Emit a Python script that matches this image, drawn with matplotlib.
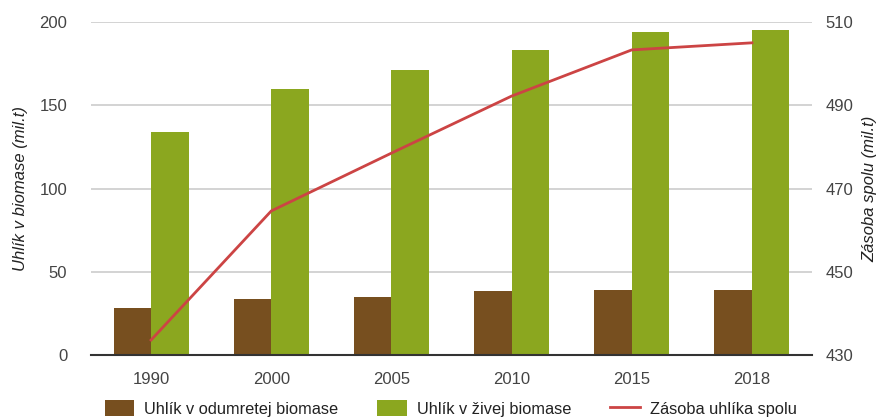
import numpy as np
import matplotlib.pyplot as plt

plt.rcParams['font.family'] = ['Liberation Sans', 'DejaVu Sans']

years = ['1990', '2000', '2005', '2010', '2015', '2018']
dead_biomass = [28.2, 33.6, 35.0, 38.4, 39.0, 39.0]
live_biomass = [134, 160, 171, 183, 194, 195]
total_stock = [433.6, 464.6, 478.5, 492.2, 503.3, 505.0]

brown = '#774F1F'
green = '#8BA71F'
red = '#CC4444'
txt = '#444444'

fig = plt.figure(figsize=(8.8, 4.17), dpi=100)
ax = fig.add_axes([0.1034, 0.1487, 0.8193, 0.7985])
ax2 = ax.twinx()

x = np.arange(len(years))
w = 0.3125
ax.bar(x - w / 2, dead_biomass, w, color=brown, label='Uhlík v odumretej biomase', zorder=2)
ax.bar(x + w / 2, live_biomass, w, color=green, label='Uhlík v živej biomase', zorder=2)
ax2.plot(x, total_stock, color=red, lw=2, label='Zásoba uhlíka spolu', zorder=3)

ax.set_xlim(-0.5, len(years) - 0.5)
ax.set_ylim(0, 200)
ax.set_yticks([0, 50, 100, 150, 200])
ax2.set_ylim(430, 510)
ax2.set_yticks([430, 450, 470, 490, 510])

ax.set_xticks(x)
ax.set_xticklabels(years)
ax.yaxis.grid(True, color='#CCCCCC', lw=1.2, zorder=0)
ax.set_axisbelow(True)

for a in (ax, ax2):
    for s in a.spines.values():
        s.set_visible(False)
    a.tick_params(length=0, labelsize=12, labelcolor=txt)
ax.spines['bottom'].set_visible(True)
ax.spines['bottom'].set_color('#333333')
ax.spines['bottom'].set_linewidth(1.5)
ax.tick_params(axis='y', pad=17)
ax.tick_params(axis='x', pad=12)
ax2.tick_params(axis='y', pad=10)

ax.set_ylabel('Uhlík v biomase (mil.t)', fontsize=12, style='italic', color='#222222', labelpad=8)
ax2.set_ylabel('Zásoba spolu (mil.t)', fontsize=12, style='italic', color='#222222', labelpad=6)

# put the line above the bars
ax.set_zorder(1)
ax2.set_zorder(2)
ax2.patch.set_visible(False)

h1, l1 = ax.get_legend_handles_labels()
h2, l2 = ax2.get_legend_handles_labels()
fig.legend(h1 + h2, l1 + l2, loc='lower center', bbox_to_anchor=(0.512, -0.035), ncol=3,
           frameon=False, fontsize=11.8, handlelength=1.8, handleheight=1.1,
           columnspacing=2.4, handletextpad=0.6, labelcolor='#222222')

fig.savefig('out.png', dpi=100)
